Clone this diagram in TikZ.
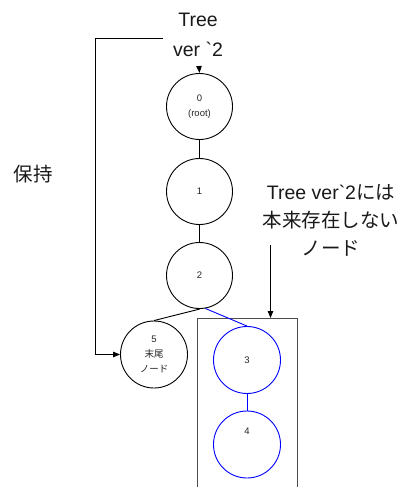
\documentclass[tikz,border=0pt]{standalone}
\usepackage{fontspec}
\setmainfont{Liberation Sans}
\newfontfamily\jp{Noto Sans CJK JP}
\usetikzlibrary{arrows.meta}
\begin{document}
\begin{tikzpicture}[x=1pt,y=-1pt,
  tnode/.style={circle,draw=black,line width=0.9pt,minimum size=66pt,inner sep=0pt,
    font=\fontsize{9.5}{15}\selectfont,text=black!85,align=center},
  bnode/.style={tnode,draw=blue},
  edge/.style={line width=0.9pt},
  bedge/.style={line width=0.9pt,draw=blue},
  arr/.style={line width=0.9pt,-{Triangle[length=7pt,width=5.5pt]}},
  big/.style={font=\fontsize{19.5}{28}\selectfont,text=black!90,align=center,inner sep=0pt}
]
\useasboundingbox (0,0) rectangle (402,487);
% nodes
\node[tnode] (n0) at (199.5,106.5) {0\\(root)};
\node[tnode] (n1) at (199.5,191.5) {1};
\node[tnode] (n2) at (199.5,275.5) {2};
\node[tnode,minimum size=67pt] (n5) at (154,354.5) {5\\{\jp 末尾}\\{\jp ノード}};
\node[bnode,minimum size=67pt] (n3) at (247,360) {3};
\node[bnode,minimum size=67pt] (n4) at (247,444.5) {4\\[12pt]};
% frame
\node[draw=black!70,line width=1pt,minimum width=100pt,minimum height=172pt,inner sep=0pt,anchor=north west] (frame) at (197,318) {};
% texts
\node[big,font=\fontsize{19.5}{30}\selectfont] (title) at (198,34.5) {Tree\\ver \textasciigrave 2};
\node[big] (note) at (331,220) {Tree ver\textasciigrave 2{\jp には}\\{\jp 本来存在しない}\\{\jp ノード}};
\node[big,font=\jp\fontsize{19.5}{28}\selectfont] (keep) at (33,174) {保持};
% edges
\draw[edge] (n0) -- (n1);
\draw[edge] (n1) -- (n2);
\draw[edge] (n2.-89) -- (n5.north);
\draw[bedge] (n2.-80) -- (n3.north);
\draw[bedge] (n3) -- (n4);
% arrows
\coordinate (tstart) at (199,66);
\draw[arr] (tstart) -- (n0.north);
\coordinate (keepstart) at (163,38);
\draw[arr] (keepstart) -- (95,38) -- (95,354.5) -- (n5.west);
\coordinate (notestart) at (270.5,245);
\draw[arr] (notestart) -- (frame.north -| notestart);
\end{tikzpicture}
\end{document}
